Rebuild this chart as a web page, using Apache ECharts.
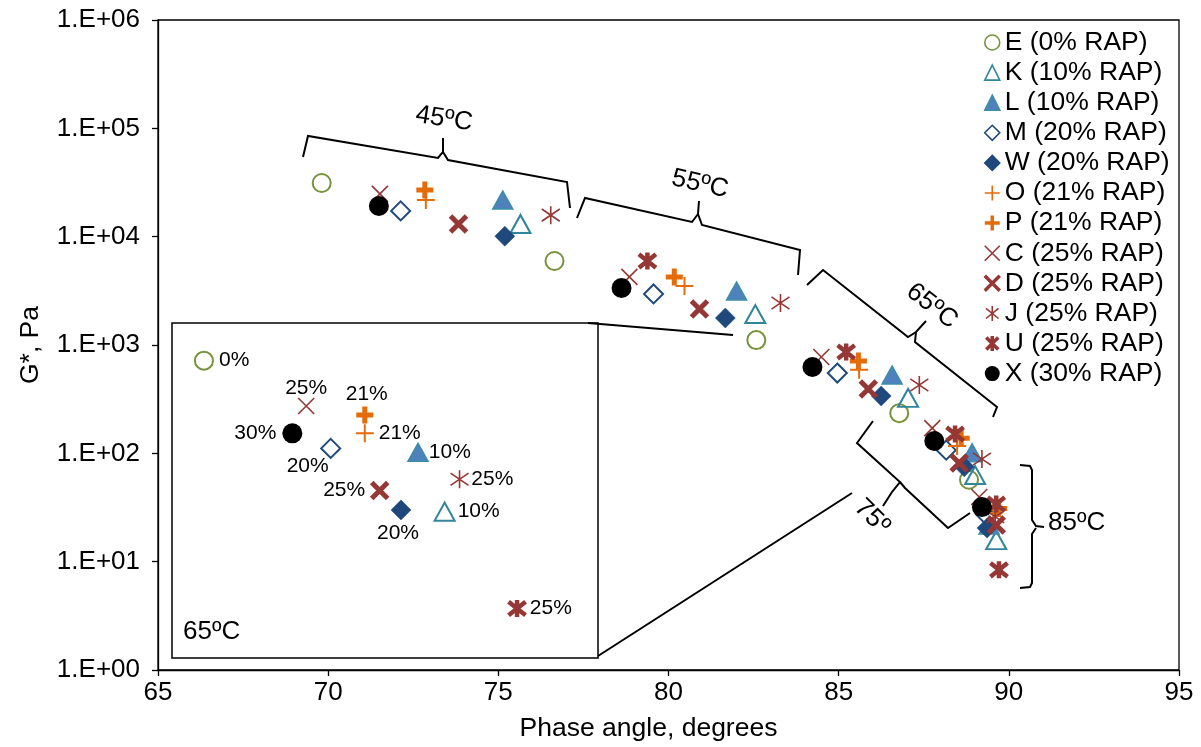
<!DOCTYPE html>
<html><head><meta charset="utf-8">
<script src="https://cdn.jsdelivr.net/npm/echarts@6/dist/echarts.min.js"></script>
<style>html,body{margin:0;padding:0;background:#fff}#c{width:1201px;height:747px}</style>
</head><body><div id="c"></div>
<script>
// ---- data (phase angle in degrees, G* in Pa) ----
const seriesNames = ['E (0% RAP)','K (10% RAP)','L (10% RAP)','M (20% RAP)','W (20% RAP)','O (21% RAP)','P (21% RAP)','C (25% RAP)','D (25% RAP)','J (25% RAP)','U (25% RAP)','X (30% RAP)'];
const phaseE = [69.81, 76.65, 82.58, 86.78, 88.83];  const gE = [31300, 5960, 1110, 235, 57];
const phaseK = [75.65, 82.55, 87.04, 89.01, 89.63];  const gK = [13100, 1930, 325, 63, 15.8];
const phaseL = [75.13, 82.00, 86.57, 88.92, 89.42];  const gL = [21800, 3150, 528, 101, 21.8];
const phaseM = [72.13, 79.56, 84.96, 88.16, 89.33];  const gM = [17300, 2960, 551, 107, 27];
const phaseW = [75.19, 81.67, 86.25, 88.69, 89.36];  const gW = [10100, 1775, 338, 75, 20.4];
const phaseO = [72.87, 80.47, 85.60, 88.48, 89.55];  const gO = [21800, 3500, 590, 117, 28];
const phaseP = [72.84, 80.17, 85.58, 88.60, 89.70];  const gP = [27000, 4250, 711, 138, 31];
const phaseC = [71.52, 78.85, 84.49, 87.75, 89.13];  const gC = [24800, 4250, 775, 171, 39.5];
const phaseD = [73.83, 80.91, 85.87, 88.54, 89.63];  const gD = [13100, 2150, 393, 81.5, 21.8];
const phaseJ = [76.54, 83.29, 87.37, 89.21, 89.60];  const gJ = [15800, 2440, 428, 88.7, 26];
const phaseU = [79.38, 85.22, 88.42, 89.63, 89.71];  const gU = [5960, 861, 151, 34, 8.4];
const phaseX = [71.49, 78.62, 84.23, 87.81, 89.21];  const gX = [19200, 3360, 627, 130, 31.9];
const phases = [phaseE, phaseK, phaseL, phaseM, phaseW, phaseO, phaseP, phaseC, phaseD, phaseJ, phaseU, phaseX];
const gValues = [gE, gK, gL, gM, gW, gO, gP, gC, gD, gJ, gU, gX];

// inset (65 °C, magnified), order as seriesNames
const insetPhase = [84.30, 86.56, 86.31, 85.49, 86.15, 85.81, 85.81, 85.26, 85.95, 86.70, 87.24, 85.13];
const insetG     = [950, 372, 538, 551, 376, 605, 678, 717, 424, 455, 204, 605];
const insetLabels = ['0%','10%','10%','20%','20%','21%','21%','25%','25%','25%','25%','30%'];

const xTicks = {min: 65, max: 95, interval: 5};
const yTicks = {min: 1, max: 1e6};

// ---- styles ----
const CROSS = 'path://M0,0L10,10M0,10L10,0';
const PLUS = 'path://M5,0L5,10M0,5L10,5';
const STAR = 'path://M5,0L5,10M0.8,1.6L9.2,8.4M0.8,8.4L9.2,1.6';
const STARB = 'path://M1,1L9,9M1,9L9,1M5,0L5,10';
const RED = '#953735', ORG = '#E46C0A', NAVY = '#1F497D';
const styles = [
  {symbol:'circle', size:18, fill:'transparent', stroke:'#77933C', bw:2},
  {symbol:'triangle', size:[20,18], fill:'transparent', stroke:'#31859C', bw:2},
  {symbol:'triangle', size:[20,18], fill:'#4F81BD', stroke:'#3C8DA8', bw:1.5},
  {symbol:'diamond', size:19, fill:'transparent', stroke:NAVY, bw:2},
  {symbol:'diamond', size:20, fill:NAVY, stroke:NAVY, bw:0.5},
  {symbol:PLUS, size:18, fill:'transparent', stroke:ORG, bw:2},
  {symbol:PLUS, size:17, fill:'transparent', stroke:ORG, bw:5},
  {symbol:CROSS, size:16, fill:'transparent', stroke:RED, bw:1.6},
  {symbol:CROSS, size:16, fill:'transparent', stroke:RED, bw:5},
  {symbol:STAR, size:18, fill:'transparent', stroke:RED, bw:1.6},
  {symbol:STARB, size:17, fill:'transparent', stroke:RED, bw:4.5},
  {symbol:'circle', size:20, fill:'#000', stroke:'#000', bw:0}
];
const insetLabelPos = [
  {position:'right', distance:5},
  {position:'right', distance:2},
  {position:'right', distance:0},
  {position:'bottom', distance:5, offset:[-23,-8]},
  {position:'bottom', distance:5, offset:[-3,-3]},
  {position:'right', distance:4},
  {position:'top', distance:2, offset:[2,3]},
  {position:'top', distance:2, offset:[0,4]},
  {position:'left', distance:4},
  {position:'right', distance:2},
  {position:'right', distance:2},
  {position:'left', distance:6}
];

const FONT = 'Liberation Sans, Arial, sans-serif';
const series = [];
seriesNames.forEach((name, i) => {
  const st = styles[i];
  series.push({
    name, type:'scatter', xAxisIndex:0, yAxisIndex:0,
    symbol: st.symbol, symbolSize: st.size,
    itemStyle:{color: st.fill, borderColor: st.stroke, borderWidth: st.bw, opacity:1},
    emphasis:{disabled:true},
    data: phases[i].map((p, k) => [p, gValues[i][k]])
  });
});
seriesNames.forEach((name, i) => {
  const st = styles[i];
  series.push({
    name: 'inset ' + name, type:'scatter', xAxisIndex:1, yAxisIndex:1, z:6,
    symbol: st.symbol, symbolSize: st.size,
    itemStyle:{color: st.fill, borderColor: st.stroke, borderWidth: st.bw, opacity:1},
    label: Object.assign({show:true, formatter: insetLabels[i], fontSize:21, color:'#000', fontFamily: FONT}, insetLabelPos[i]),
    emphasis:{disabled:true},
    data: [[insetPhase[i], insetG[i]]]
  });
});

const ls = {stroke:'#000', lineWidth:2, fill:'none'};
function pl(points){ return {type:'polyline', z:50, shape:{points}, style: ls}; }
function tx(text, x, y, rot, size, align){
  return {type:'text', z:50, x, y, rotation: rot,
    style:{text, fill:'#000', font: (size||26) + 'px ' + FONT,
      align: align||'center', verticalAlign:'middle', textAlign: align||'center', textVerticalAlign:'middle'}};
}

const chart = echarts.init(document.getElementById('c'), null, {renderer:'canvas'});
chart.setOption({
  animation:false,
  backgroundColor:'#fff',
  textStyle:{fontFamily: FONT},
  grid:[
    {left:158, right:22, top:20, bottom:77, show:true, borderColor:'#000', borderWidth:1.3, backgroundColor:'transparent'},
    {left:172, top:323, width:426, height:335, show:true, borderColor:'#000', borderWidth:1.5, backgroundColor:'#fff', z:4}
  ],
  legend:{
    orient:'vertical', left:983, top:29, padding:0, itemWidth:15, itemHeight:15, itemGap:3.1,
    textStyle:{fontSize:26.5, lineHeight:26.5, color:'#000', fontFamily: FONT},
    data: seriesNames.map((n, i) => ({name:n, itemStyle:{borderWidth: styles[i].bw > 3 ? 3.5 : (styles[i].bw > 0 ? 1.6 : 0)}})),
    selectedMode:false
  },
  xAxis:[
    {type:'value', gridIndex:0, min:xTicks.min, max:xTicks.max, interval:xTicks.interval,
     name:'Phase angle, degrees', nameLocation:'middle', nameGap:45,
     nameTextStyle:{fontSize:26.5, color:'#000', fontFamily: FONT, padding:[0,40,0,0]},
     axisLine:{lineStyle:{color:'#000', width:1.3}}, axisTick:{show:true, inside:false, length:6, lineStyle:{color:'#000', width:1.3}},
     axisLabel:{fontSize:26, color:'#000', margin:10, fontFamily: FONT}, splitLine:{show:false}},
    {type:'value', gridIndex:1, min:84, max:88, show:false, splitLine:{show:false}}
  ],
  yAxis:[
    {type:'log', logBase:10, gridIndex:0, min:yTicks.min, max:yTicks.max, splitNumber:6,
     name:'G*, Pa', nameLocation:'middle', nameGap:114,
     nameTextStyle:{fontSize:26.5, color:'#000', fontFamily: FONT},
     axisLine:{show:true, lineStyle:{color:'#000', width:1.3}}, axisTick:{show:true, length:6, lineStyle:{color:'#000', width:1.3}},
     minorTick:{show:false},
     axisLabel:{fontSize:26, color:'#000', margin:18, fontFamily: FONT,
       formatter: v => { const e = Math.round(Math.log10(v)); return '1.E' + (e < 0 ? '-' : '+') + String(Math.abs(e)).padStart(2,'0'); }},
     splitLine:{show:false}},
    {type:'log', logBase:10, gridIndex:1, min:150, max:1200, show:false, splitLine:{show:false}}
  ],
  series,
  graphic:[
    // 45 °C brace
    pl([[303,157],[308,136],[438,158],[443,152],[443,138]]),
    pl([[443,152],[448,160],[567,182],[570,208]]),
    tx('45ºC', 444, 119, -0.15),
    // 55 °C brace
    pl([[577,218],[585,198],[692,222],[698,214],[699,201]]),
    pl([[698,214],[702,225],[800,250],[798,275]]),
    tx('55ºC', 700, 184, -0.22),
    // 65 °C brace
    pl([[807,285],[823,270],[908,337],[916,332],[926,321]]),
    pl([[916,332],[915,342],[997,407],[993,417]]),
    tx('65ºC', 932, 306, -0.66),
    // 75 °C brace
    pl([[873,421],[857,443],[900,482],[892,492],[883,506]]),
    pl([[900,482],[905,488],[948,528],[970,513]]),
    tx('75º', 872, 517, -0.78),
    // 85 °C brace
    pl([[1020,465],[1030,466],[1032,470],[1032,520],[1036,526],[1044,527]]),
    pl([[1036,528],[1032,534],[1032,583],[1030,587],[1020,588]]),
    tx('85ºC', 1048, 523, 0, 26, 'left'),
    // connectors from inset to 65 °C group
    pl([[588,323],[733,335]]),
    pl([[598,656],[852,493]]),
    // inset temperature
    tx('65ºC', 183, 632, 0, 26, 'left')
  ]
});
</script>
</body></html>
